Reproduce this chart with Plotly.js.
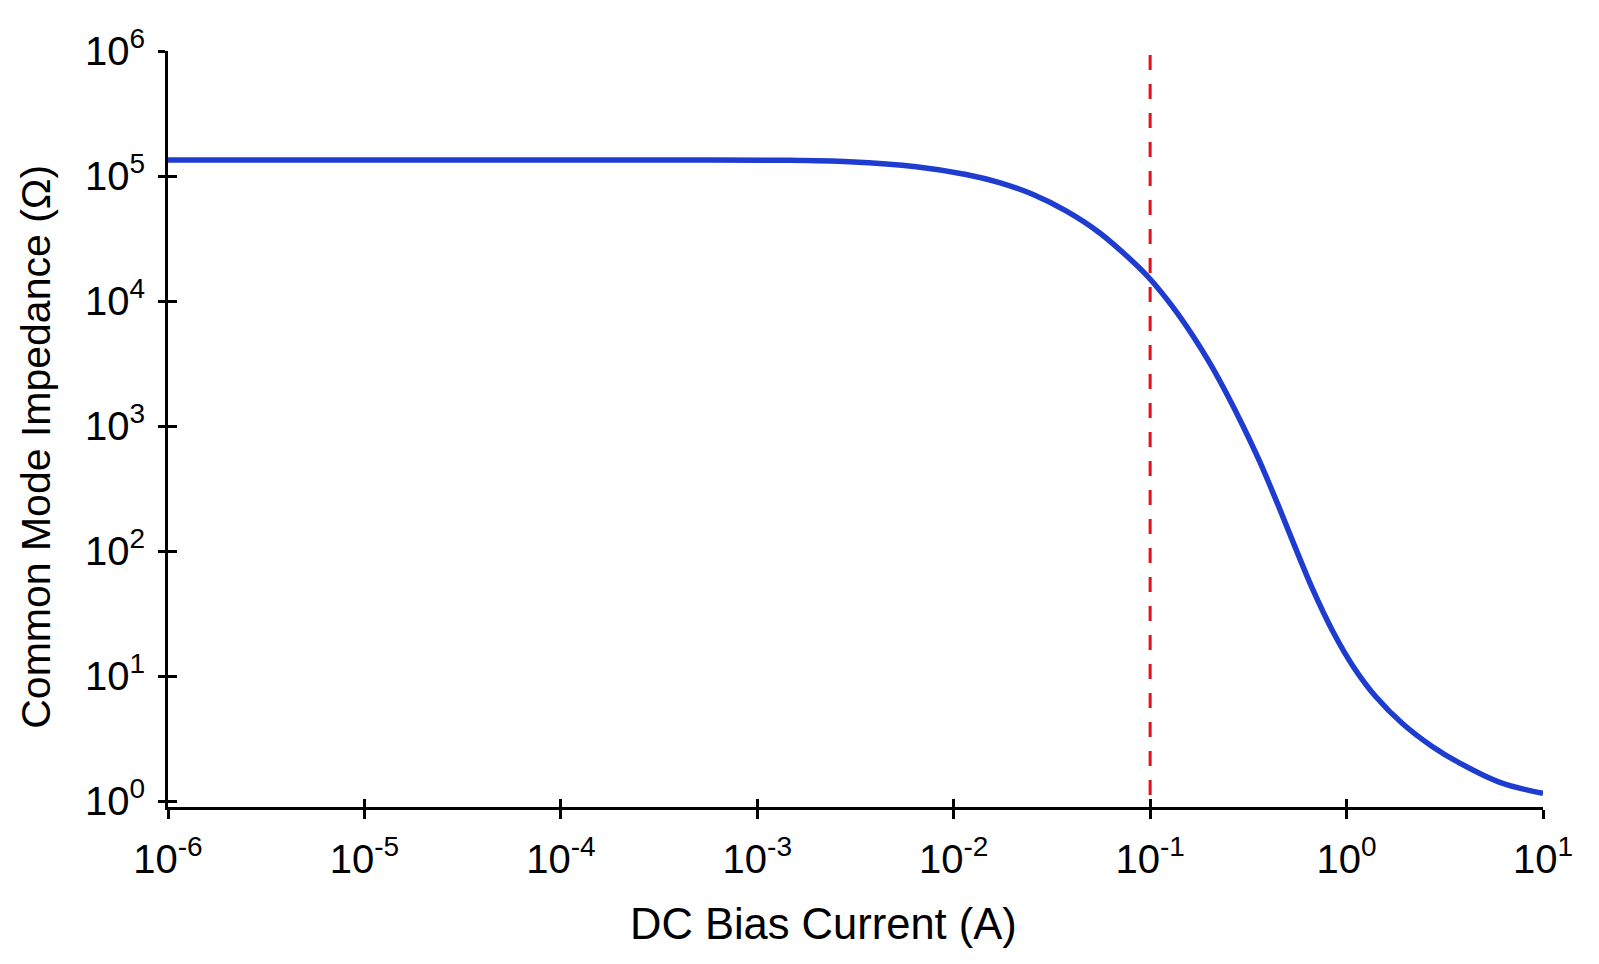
<!DOCTYPE html>
<html>
<head>
<meta charset="utf-8">
<script src="https://cdn.plot.ly/plotly-3.0.1.min.js"></script>
<style>
  html, body { margin: 0; padding: 0; background: #ffffff; }
  #chart { width: 1599px; height: 964px; }
</style>
</head>
<body>
<div id="chart"></div>
<script>
// DC bias current (A) and common mode impedance (Ohm)
const biasCurrent = [1e-6, 1e-5, 1e-4, 2.82e-4, 1.35e-3, 2.94e-3, 6.44e-3, 1.156e-2, 1.71e-2,
  2.52e-2, 3.73e-2, 5.52e-2, 8.15e-2, 0.0991, 0.130, 0.164, 0.200, 0.243, 0.296, 0.360,
  0.455, 0.553, 0.671, 0.849, 1.074, 1.41, 1.93, 2.74, 3.75, 6.03, 10];
const impedance = [1.34e5, 1.34e5, 1.34e5, 1.34e5, 1.337e5, 1.30e5, 1.186e5, 1.028e5, 8.85e4,
  7.14e4, 5.26e4, 3.52e4, 2.07e4, 1.52e4, 9.02e3, 5.35e3, 3.24e3, 1.86e3, 1.01e3, 525,
  220, 103, 49.7, 22.9, 12.1, 6.82, 4.15, 2.72, 2.02, 1.41, 1.15];

// Rated current marker (drawn from the top down)
const markerCurrent = [0.1, 0.1];
const markerSpan = [9.3e5, 0.895];

// Tick values and labels
const xTickVals = [1e-6, 1e-5, 1e-4, 1e-3, 1e-2, 1e-1, 1, 10];
const xTickText = ['10<sup>-6</sup>', '10<sup>-5</sup>', '10<sup>-4</sup>', '10<sup>-3</sup>',
  '10<sup>-2</sup>', '10<sup>-1</sup>', '10<sup>0</sup>', '10<sup>1</sup>'];
const yTickVals = [1, 10, 100, 1e3, 1e4, 1e5, 1e6];
const yTickText = ['10<sup>0</sup>', '10<sup>1</sup>', '10<sup>2</sup>', '10<sup>3</sup>',
  '10<sup>4</sup>', '10<sup>5</sup>', '10<sup>6</sup>'];

const xTitle = 'DC Bias Current (A)';
const yTitle = 'Common Mode Impedance (Ω)';

const FONT = 'Liberation Sans, Arial, Helvetica, sans-serif';
const xRange = [-6, 1];
const yRange = [-0.048, 6];

const traces = [
  {
    x: biasCurrent, y: impedance, type: 'scatter', mode: 'lines',
    line: { color: '#1e3ccf', width: 5.5, shape: 'spline', smoothing: 1 },
    hoverinfo: 'skip', showlegend: false
  },
  {
    x: markerCurrent, y: markerSpan, type: 'scatter', mode: 'lines',
    line: { color: '#e3101c', width: 3, dash: '15px,14px' },
    hoverinfo: 'skip', showlegend: false
  },
  {
    x: [], y: [], xaxis: 'x2', yaxis: 'y2', type: 'scatter', mode: 'lines',
    hoverinfo: 'skip', showlegend: false
  }
];

const axisCommon = {
  type: 'log', showgrid: false, zeroline: false,
  tickcolor: '#000', tickwidth: 3,
  tickfont: { family: FONT, size: 40, color: '#000' }
};

const layout = {
  width: 1599, height: 964,
  paper_bgcolor: '#ffffff', plot_bgcolor: '#ffffff',
  margin: { l: 168, r: 56, t: 51, b: 157, pad: 0 },
  showlegend: false,
  xaxis: Object.assign({}, axisCommon, {
    range: xRange, autorange: false,
    tickmode: 'array', tickvals: xTickVals, ticktext: xTickText,
    ticks: 'outside', ticklen: 9,
    showline: true, linecolor: '#000', linewidth: 3,
    ticklabelstandoff: 6
  }),
  yaxis: Object.assign({}, axisCommon, {
    range: yRange, autorange: false,
    tickmode: 'array', tickvals: yTickVals, ticktext: yTickText,
    ticks: 'outside', ticklen: 7,
    showline: true, linecolor: '#000', linewidth: 3,
    ticklabelstandoff: 5
  }),
  xaxis2: Object.assign({}, axisCommon, {
    overlaying: 'x', range: xRange, autorange: false,
    tickmode: 'array', tickvals: xTickVals, showticklabels: false,
    ticks: 'inside', ticklen: 8, showline: false, anchor: 'y2', side: 'bottom'
  }),
  yaxis2: Object.assign({}, axisCommon, {
    overlaying: 'y', range: yRange, autorange: false,
    tickmode: 'array', tickvals: yTickVals, showticklabels: false,
    ticks: 'inside', ticklen: 9, showline: false, anchor: 'x2', side: 'left'
  }),
  annotations: [
    {
      text: xTitle, xref: 'paper', yref: 'paper', x: 0.4767, y: -0.155,
      xanchor: 'center', yanchor: 'middle', showarrow: false,
      font: { family: FONT, size: 43.5, color: '#000' }
    },
    {
      text: yTitle, xref: 'paper', yref: 'paper', x: -0.096, y: 0.4765,
      xanchor: 'center', yanchor: 'middle', showarrow: false, textangle: -90,
      font: { family: FONT, size: 41, color: '#000' }
    }
  ]
};

Plotly.newPlot('chart', traces, layout, { staticPlot: true, displayModeBar: false });
</script>
</body>
</html>
